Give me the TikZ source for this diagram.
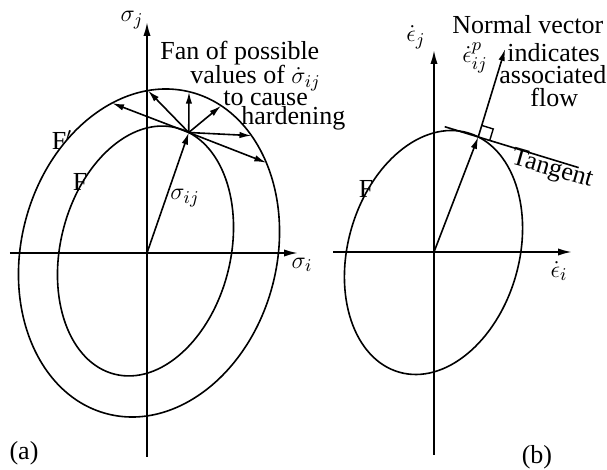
\documentclass[tikz,border=0pt]{standalone}
\usepackage{amsmath,amssymb}
\usepackage{fontspec}
\setmainfont{Liberation Serif}
\usepackage{tikz}
\usetikzlibrary{arrows.meta, calc}

\begin{document}
\begin{tikzpicture}[x=0.5pt, y=-0.5pt,
  axis/.style={line width=0.9pt, -{Latex[length=7pt,width=3.6pt]}},
  curve/.style={line width=0.8pt},
  vec/.style={line width=0.8pt, -{Latex[length=6pt,width=3.2pt]}},
  lbl/.style={font=\fontsize{13}{15}\selectfont, inner sep=0pt},
  txt/.style={lbl, anchor=base west}
]
  \useasboundingbox (0,0) rectangle (607,470);

  % (a) stress space
  \coordinate (originA) at (147,253);
  \coordinate (axLeftA) at (10,253);
  \coordinate (axRightA) at (298,253);
  \coordinate (axDownA) at (147,457);
  \coordinate (axUpA) at (147,22);

  \begin{scope}[shift={(149,253)}, rotate=-14.7]
    \draw[curve] (0,0) ellipse [x radius=127.7, y radius=166.2];
    \coordinate (fan1) at (-125.3:127.7 and 166.2);
    \coordinate (fan2) at (-109.3:127.7 and 166.2);
    \coordinate (fan3) at (-91:127.7 and 166.2);
    \coordinate (fan4) at (-75.3:127.7 and 166.2);
    \coordinate (fan5) at (-57.1:127.7 and 166.2);
    \coordinate (fan6) at (-44.8:127.7 and 166.2);
  \end{scope}
  \begin{scope}[shift={(145.5,251)}, rotate=-14]
    \draw[curve] (0,0) ellipse [x radius=85, y radius=127];
    \coordinate (pointP) at (-81:85 and 127);
  \end{scope}

  \draw[axis] (axLeftA) -- (axRightA);
  \draw[axis] (axDownA) -- (axUpA);
  \draw[vec] (originA) -- (pointP);
  \draw[vec] (pointP) -- (fan1);
  \draw[vec] (pointP) -- (fan2);
  \draw[vec] (pointP) -- (fan3);
  \draw[vec] (pointP) -- (fan4);
  \draw[vec] (pointP) -- (fan5);
  \draw[vec] (pointP) -- (fan6);

  \node[lbl] (sigmaJ) at (132,20) {$\sigma_j$};
  \node[lbl] (sigmaI) at (302,265) {$\sigma_i$};
  \node[lbl] (sigmaIJ) at (185,198) {$\sigma_{ij}$};
  \node[lbl] (labelFp) at (62,140) {F$'$};
  \node[lbl] (labelF) at (80,182) {F};
  \node[txt] (fanA) at (160,60) {Fan of possible};
  \node[txt] (fanB) at (190,84) {values of $\dot{\sigma}_{ij}$};
  \node[txt] (fanC) at (223,106) {to cause};
  \node[txt] (fanD) at (241,125) {hardening};
  \node[lbl] (capA) at (24,453) {(a)};

  % (b) strain rate space
  \coordinate (originB) at (434,252);
  \coordinate (axLeftB) at (333,252);
  \coordinate (axRightB) at (572,252);
  \coordinate (axDownB) at (434,455);
  \coordinate (axUpB) at (434,50);

  \begin{scope}[shift={(433.5,252.5)}, rotate=-16]
    \draw[curve] (0,0) ellipse [x radius=85.5, y radius=124.5];
    \coordinate (pointQ) at (-82.5:85.5 and 124.5);
  \end{scope}
  \coordinate (tanL) at ($(pointQ)+(-33.5,-10.2)$);
  \coordinate (tanR) at ($(pointQ)+(100.4,30.7)$);
  \coordinate (normTip) at ($(pointQ)+(26.9,-88)$);

  \draw[axis] (axLeftB) -- (axRightB);
  \draw[axis] (axDownB) -- (axUpB);
  \draw[vec] (originB) -- (pointQ);
  \draw[vec] (pointQ) -- (normTip);
  \draw[curve] (tanL) -- (tanR);
  \coordinate (sqN) at ($(pointQ)!6pt!(normTip)$);
  \coordinate (sqT) at ($(pointQ)!6pt!(tanR)$);
  \draw[line width=0.7pt] (sqN) -- ($(sqN)+(sqT)-(pointQ)$) -- (sqT);

  \node[lbl] (epsJ) at (416,37) {$\dot{\epsilon}_j$};
  \node[lbl] (epsI) at (559,271) {$\dot{\epsilon}_i$};
  \node[lbl] (epsP) at (475,58) {$\dot{\epsilon}^{p}_{ij}$};
  \node[lbl] (labelFb) at (366,189) {F};
  \node[lbl, rotate=-16] (tangentLbl) at (552,170) {Tangent};
  \node[txt] (normA) at (452,34) {Normal vector};
  \node[txt] (normB) at (507,62) {indicates};
  \node[txt] (normC) at (499,84) {associated};
  \node[txt] (normD) at (530,107) {flow};
  \node[lbl] (capB) at (537,457) {(b)};
\end{tikzpicture}
\end{document}
